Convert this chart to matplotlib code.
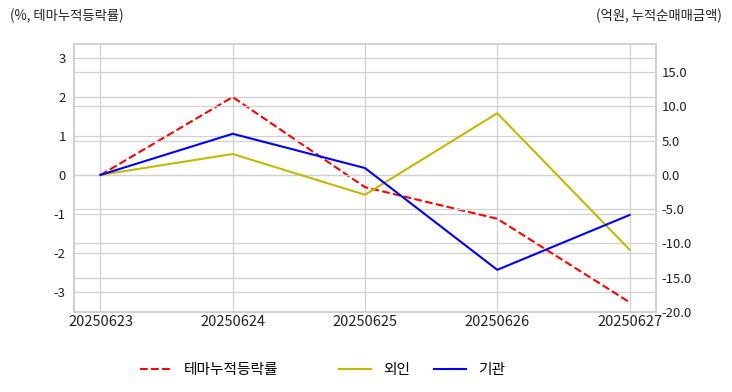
import matplotlib.pyplot as plt
from matplotlib.ticker import FormatStrFormatter

dates = ["20250623", "20250624", "20250625", "20250626", "20250627"]
theme_rate = [0.0, 2.0, -0.31, -1.12, -3.26]
foreign = [0.0, 3.05, -2.9, 9.0, -10.9]
institution = [0.0, 6.0, 1.0, -13.85, -5.85]

plt.rcParams['font.family'] = ['Noto Sans CJK KR', 'DejaVu Sans']
plt.rcParams['axes.unicode_minus'] = False

fig = plt.figure(figsize=(7.32, 3.92), dpi=100)
ax = fig.add_axes([74 / 732, 80 / 392, 582 / 732, 268 / 392])
ax2 = ax.twinx()

x = list(range(len(dates)))
l1, = ax.plot(x, theme_rate, color='red', linestyle='--', linewidth=1.5, label='테마누적등락률')
l2, = ax2.plot(x, foreign, color='#c0bb00', linewidth=1.5, label='외인')
l3, = ax2.plot(x, institution, color='blue', linewidth=1.5, label='기관')

ax.set_xlim(-0.2, 4.2)
ax.set_ylim(-3.51, 3.36)
ax2.set_ylim(-20, 19.1)
ax.set_xticks(x)
ax.set_xticklabels(dates)
ax.set_yticks([-3, -2, -1, 0, 1, 2, 3])
ax2.set_yticks([-20, -15, -10, -5, 0, 5, 10, 15])
ax2.yaxis.set_major_formatter(FormatStrFormatter('%.1f'))

for a in (ax, ax2):
    a.grid(True, color='#d0d0d0', linewidth=0.9)
    a.set_axisbelow(True)
    a.tick_params(length=0, labelsize=9.5, colors='#222222')
    for s in a.spines.values():
        s.set_color('#d0d0d0')
        s.set_linewidth(1.2)
ax.tick_params(axis='y', pad=6)
ax.tick_params(axis='x', pad=2, labelsize=10.5)
ax2.tick_params(axis='y', pad=4)
ax2.set_zorder(ax.get_zorder() + 1)
ax2.patch.set_visible(False)
ax.set_zorder(0)

fig.text(10 / 732, 1 - 16 / 392, '(%, 테마누적등락률)', fontsize=9.6, va='center', ha='left', color='#222222')
fig.text(722 / 732, 1 - 16 / 392, '(억원, 누적순매매금액)', fontsize=9.6, va='center', ha='right', color='#222222')

fig.legend([l1], ['테마누적등락률'], loc='center', bbox_to_anchor=(209 / 732, 1 - 370 / 392),
           frameon=False, fontsize=10.6, handlelength=2.2, handletextpad=0.8)
fig.legend([l2, l3], ['외인', '기관'], loc='center', bbox_to_anchor=(422 / 732, 1 - 370 / 392),
           ncol=2, frameon=False, fontsize=10.6, handlelength=2.2, handletextpad=0.8, columnspacing=1.6)

fig.savefig('out.png', dpi=100)
